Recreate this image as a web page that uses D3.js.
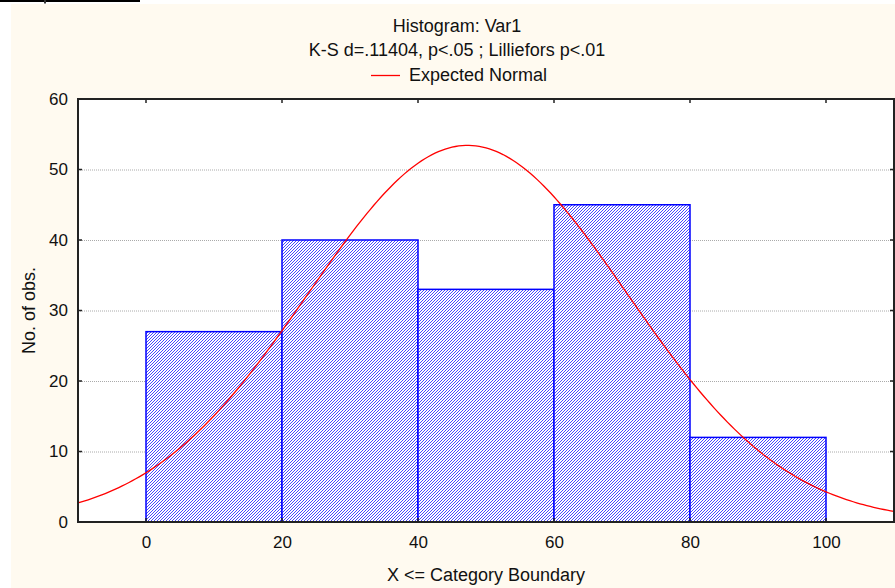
<!DOCTYPE html>
<html><head><meta charset="utf-8">
<script src="https://cdn.jsdelivr.net/npm/d3@7"></script>
<style>body{margin:0;background:#fff}svg{display:block}text{font-family:"Liberation Sans",Arial,sans-serif;fill:#111}</style>
</head><body>
<script>
const binStarts = [0, 20, 40, 60, 80];
const binEnds = [20, 40, 60, 80, 100];
const counts = [27, 40, 33, 45, 12];
const xTicks = [0, 20, 40, 60, 80, 100];
const yTicks = [0, 10, 20, 30, 40, 50, 60];
const normalMean = [47.3];
const normalSd = [23.45];
const titleLines = ["Histogram: Var1", "K-S d=.11404, p<.05 ; Lilliefors p<.01"];
const legendLabel = "Expected Normal";

const W = 895, H = 588;
const svg = d3.select("body").append("svg").attr("width", W).attr("height", H);
svg.append("rect").attr("x", 11).attr("y", 4).attr("width", W - 11).attr("height", H - 4).attr("fill", "#fffaf0");
svg.append("rect").attr("x", 0).attr("y", 0).attr("width", 140).attr("height", 2).attr("fill", "#000");
svg.append("rect").attr("x", 44).attr("y", 0).attr("width", 2).attr("height", 3.5).attr("fill", "#333");

const m = {l: 78, r: 894, t: 99, b: 522};
const x = d3.scaleLinear().domain([-10, 110]).range([m.l, m.r]);
const y = d3.scaleLinear().domain([0, 60]).range([m.b, m.t]);

const defs = svg.append("defs");
const pat = defs.append("pattern").attr("id", "hatch").attr("patternUnits", "userSpaceOnUse")
  .attr("width", 3).attr("height", 3);
pat.append("rect").attr("width", 3).attr("height", 3).attr("fill", "#fff");
pat.append("path").attr("d", "M-1,1 l2,-2 M0,3 l3,-3 M2,4 l2,-2").attr("stroke", "#4848ff").attr("stroke-width", 1);

svg.append("rect").attr("x", m.l).attr("y", m.t).attr("width", m.r - m.l).attr("height", m.b - m.t).attr("fill", "#fff");

// grid
svg.append("g").selectAll("line").data(yTicks.filter(d => d > 0 && d < 60)).join("line")
  .attr("x1", m.l).attr("x2", m.r).attr("y1", d => y(d) + 0.5).attr("y2", d => y(d) + 0.5)
  .attr("stroke", "#aaa").attr("stroke-width", 1).attr("stroke-dasharray", "1,1");

const n = d3.sum(counts);
const bins = counts.map((c, i) => ({x0: binStarts[i], x1: binEnds[i], c}));
svg.append("g").selectAll("rect").data(bins).join("rect")
  .attr("x", d => x(d.x0)).attr("y", d => y(d.c))
  .attr("width", d => x(d.x1) - x(d.x0)).attr("height", d => y(0) - y(d.c))
  .attr("fill", "url(#hatch)").attr("stroke", "#0000ff").attr("stroke-width", 1.5);

// expected normal curve
const bw = binEnds[0] - binStarts[0];
const mu = normalMean[0], sd = normalSd[0];
const xs = d3.range(-10, 110.01, 0.5);
const line = d3.line().x(d => x(d)).y(d => y(n * bw * Math.exp(-0.5 * ((d - mu) / sd) ** 2) / (sd * Math.sqrt(2 * Math.PI))));
svg.append("path").datum(xs).attr("d", line).attr("fill", "none").attr("stroke", "#ff0000").attr("stroke-width", 1.3);

// frame
svg.append("rect").attr("x", m.l).attr("y", m.t).attr("width", m.r - m.l).attr("height", m.b - m.t)
  .attr("fill", "none").attr("stroke", "#222").attr("stroke-width", 2);

// axes
const ax = d3.axisBottom(x).tickValues(xTicks).tickSize(0).tickPadding(14);
const gx = svg.append("g").attr("transform", `translate(0,${m.b})`).call(ax);
gx.select(".domain").remove();
gx.selectAll("text").style("font-size", "17px").attr("fill", "#111");
const ay = d3.axisLeft(y).tickValues(yTicks).tickSize(0).tickPadding(10);
const gy = svg.append("g").attr("transform", `translate(${m.l},0)`).call(ay);
gy.select(".domain").remove();
gy.selectAll("text").style("font-size", "17px").attr("fill", "#111");

// inward ticks on all sides
const tk = svg.append("g").attr("stroke", "#222").attr("stroke-width", 1.5);
xTicks.forEach(v => {
  tk.append("line").attr("x1", x(v)).attr("x2", x(v)).attr("y1", m.t).attr("y2", m.t + 4);
  tk.append("line").attr("x1", x(v)).attr("x2", x(v)).attr("y1", m.b).attr("y2", m.b - 4);
});
yTicks.forEach(v => {
  tk.append("line").attr("x1", m.l).attr("x2", m.l + 4).attr("y1", y(v)).attr("y2", y(v));
  tk.append("line").attr("x1", m.r).attr("x2", m.r - 4).attr("y1", y(v)).attr("y2", y(v));
});

const tcx = 457;
svg.append("text").attr("x", tcx).attr("y", 32).attr("text-anchor", "middle").style("font-size", "18px").text(titleLines[0]);
svg.append("text").attr("x", tcx).attr("y", 56).attr("text-anchor", "middle").style("font-size", "18px").text(titleLines[1]);
svg.append("line").attr("x1", 371).attr("x2", 400).attr("y1", 75.5).attr("y2", 75.5).attr("stroke", "#ff0000").attr("stroke-width", 1.3);
svg.append("text").attr("x", 409).attr("y", 81).style("font-size", "18px").text(legendLabel);

const cx = (m.l + m.r) / 2;
svg.append("text").attr("x", cx).attr("y", 581).attr("text-anchor", "middle").style("font-size", "18px").text("X <= Category Boundary");
svg.append("text").attr("transform", `translate(35,${(m.t + m.b) / 2}) rotate(-90)`).attr("text-anchor", "middle").style("font-size", "18px").text("No. of obs.");
</script>
</body></html>
